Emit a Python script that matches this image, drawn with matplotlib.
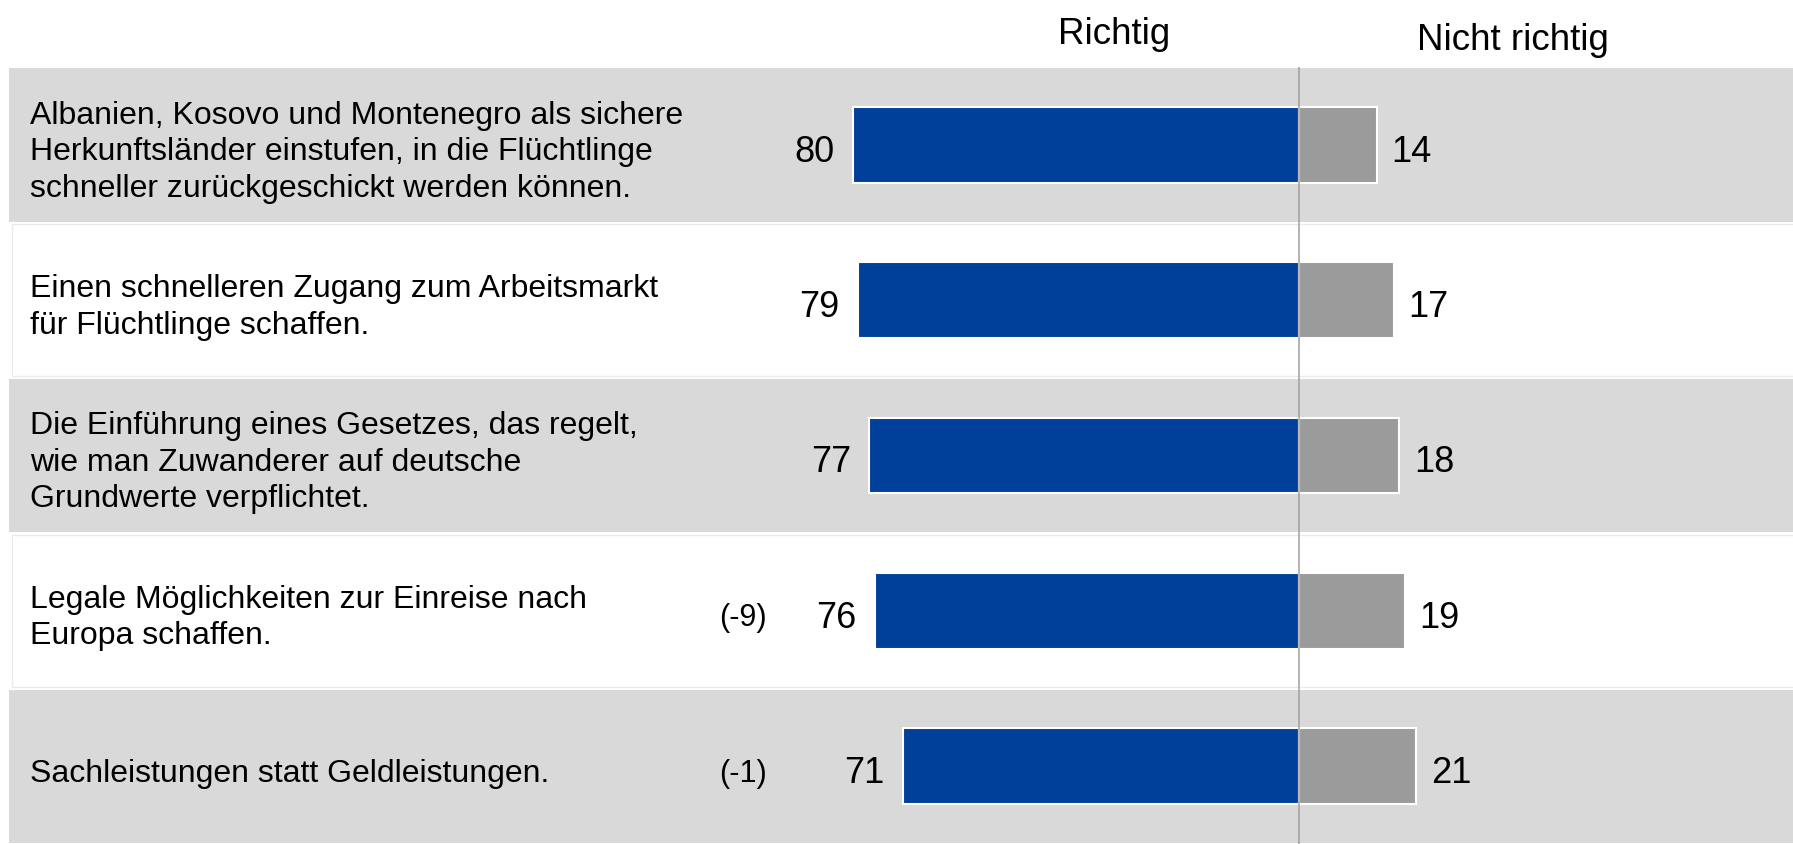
import matplotlib.pyplot as plt

plt.rcParams['font.family'] = ['Liberation Sans', 'DejaVu Sans']

# data
statements = [
    "Albanien, Kosovo und Montenegro als sichere\nHerkunftsländer einstufen, in die Flüchtlinge\nschneller zurückgeschickt werden können.",
    "Einen schnelleren Zugang zum Arbeitsmarkt\nfür Flüchtlinge schaffen.",
    "Die Einführung eines Gesetzes, das regelt,\nwie man Zuwanderer auf deutsche\nGrundwerte verpflichtet.",
    "Legale Möglichkeiten zur Einreise nach\nEuropa schaffen.",
    "Sachleistungen statt Geldleistungen.",
]
richtig = [80, 79, 77, 76, 71]
nicht_richtig = [14, 17, 18, 19, 21]
changes = ["", "", "", "(-9)", "(-1)"]

BLUE = "#00409a"
GREY_BAR = "#9b9b9b"
BAND = "#d9d9d9"

W, H = 1793, 845
CENTER_PX = 1299
PX_PER_UNIT = 5.58
ROW_PX = 155.6
TOP_PX = 68.3

fig = plt.figure(figsize=(W / 100, H / 100), dpi=100)
ax = fig.add_axes([0, 0, 1, 1])
ax.set_xlim(-CENTER_PX / PX_PER_UNIT, (W - CENTER_PX) / PX_PER_UNIT)
ax.set_ylim(len(statements) - 0.5, -0.5 - TOP_PX / ROW_PX)
ax.axis("off")

rows = list(range(len(statements)))
x0 = (9.3 - CENTER_PX) / PX_PER_UNIT
xr = ax.get_xlim()[1]

# alternating row bands
for i in rows:
    if i % 2 == 0:
        ax.barh(i, xr - x0, left=x0, height=0.987, color=BAND, zorder=0)
    else:
        ax.barh(i, xr - x0 + 5, left=x0 + 0.4, height=0.975, color="white",
                edgecolor="#ebebeb", linewidth=1, zorder=0)

# bars
ax.barh(rows, [-v for v in richtig], height=0.487, color=BLUE,
        edgecolor="white", linewidth=1.5, zorder=2)
ax.barh(rows, nicht_richtig, height=0.487, color=GREY_BAR,
        edgecolor="white", linewidth=1.5, zorder=2)
ax.vlines(0, -0.5, len(statements) - 0.5, color="#a0a0a0", linewidth=1.1, zorder=3)

dy = 0.04  # text sits a little below the row centre in the reference
label_x = (30 - CENTER_PX) / PX_PER_UNIT
for i, (txt, r, n, c) in enumerate(zip(statements, richtig, nicht_richtig, changes)):
    ax.text(label_x, i + dy, txt, ha="left", va="center", fontsize=23,
            linespacing=1.28, color="black")
    ax.text(-r - 3.3, i + dy, str(r), ha="right", va="center", fontsize=26)
    ax.text(n + 2.6, i + dy, str(n), ha="left", va="center", fontsize=26)
    if c:
        ax.text(-99.6, i + dy, c, ha="center", va="center", fontsize=22)

# column headers
ax.text(-33.2, -0.5 - TOP_PX / ROW_PX + 44 / ROW_PX, "Richtig",
        ha="center", va="baseline", fontsize=26.5)
ax.text(38.3, -0.5 - TOP_PX / ROW_PX + 50 / ROW_PX, "Nicht richtig",
        ha="center", va="baseline", fontsize=26.5)

fig.savefig("out.png", dpi=100)
